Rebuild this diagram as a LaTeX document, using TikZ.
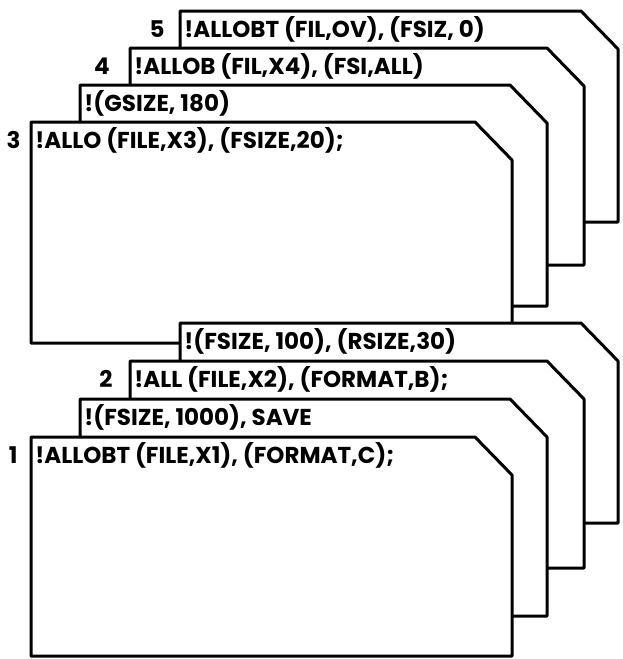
\documentclass[tikz,border=0pt]{standalone}
\usepackage{fontspec}
\setmainfont{Poppins}
\usepackage{tikz}
\usetikzlibrary{positioning}
\tikzset{
  card/.style={draw=black, fill=white, line width=1.5pt, line join=round},
  cardtext/.style={anchor=west, inner sep=0pt, font=\fontsize{11.5}{13}\selectfont\bfseries},
  numlabel/.style={inner sep=0pt, font=\fontsize{11.5}{13}\selectfont\bfseries}
}

\begin{document}
\begin{tikzpicture}[x=0.5pt, y=-0.5pt]
    \useasboundingbox (0,0) rectangle (622,659);
    % cards, back to front
    \foreach \l/\t/\r/\b in {180/11/618/222, 130/48/584/265, 80/85/547/306, 31/122/512/343,
        180/323/618/523, 130/361/584/568, 80/399/547/616, 31/437/512/656}
      \draw[card] (\l,\b) -- (\l,\t) -- ({\r-37},\t) -- (\r,{\t+38}) -- (\r,\b) -- cycle;
    % upper deck
    \node[cardtext] (txt5) at (184,29) {!ALLOBT (FIL,OV), (FSIZ, 0)};
    \node[cardtext] (txt4) at (134,66) {!ALLOB (FIL,X4), (FSI,ALL)};
    \node[cardtext] (gsize) at (84,103) {!(GSIZE, 180)};
    \node[cardtext] (txt3) at (35,140) {!ALLO (FILE,X3), (FSIZE,20);};
    % lower deck
    \node[cardtext] (fsize100) at (184,341) {!(FSIZE, 100), (RSIZE,30)};
    \node[cardtext] (txt2) at (134,379) {!ALL (FILE,X2), (FORMAT,B);};
    \node[cardtext] (fsize1000) at (84,417) {!(FSIZE, 1000), SAVE};
    \node[cardtext] (txt1) at (35,455) {!ALLOBT (FILE,X1), (FORMAT,C);};
    % card numbers
    \node[numlabel, left=9.5pt of txt5.base west, anchor=base east] (num5) {5};
    \node[numlabel, left=12pt of txt4.base west, anchor=base east] (num4) {4};
    \node[numlabel, left=7pt of txt3.base west, anchor=base east] (num3) {3};
    \node[numlabel, left=10.5pt of txt2.base west, anchor=base east] (num2) {2};
    \node[numlabel, left=8.5pt of txt1.base west, anchor=base east] (num1) {1};
  \end{tikzpicture}
\end{document}
